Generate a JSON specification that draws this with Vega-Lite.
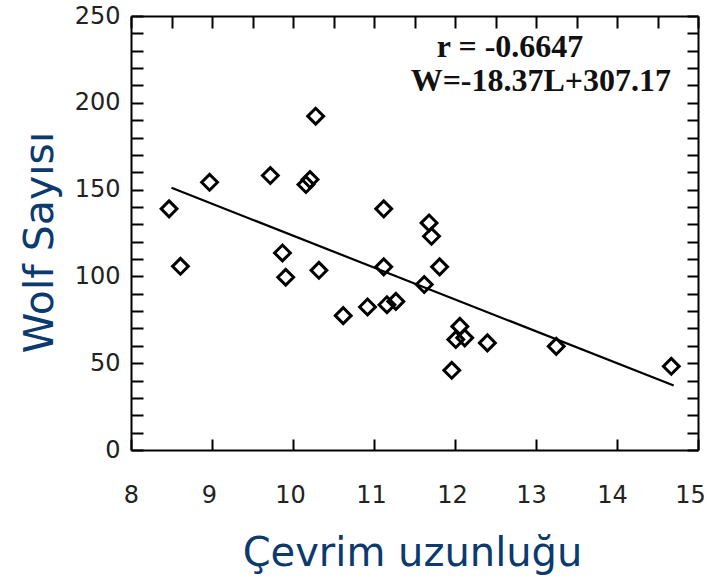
{
  "$schema": "https://vega.github.io/schema/vega-lite/v6.json",
  "width": 567,
  "height": 434,
  "autosize": "none",
  "padding": {"left": 131, "top": 16, "right": 14, "bottom": 131},
  "background": "white",
  "config": {"view": {"stroke": null}},
  "resolve": {"axis": {"x": "independent", "y": "independent"}},
  "layer": [
    {
      "data": {"values": [
        {"L": 8.47, "W": 138.9},
        {"L": 8.61, "W": 105.8},
        {"L": 8.97, "W": 154.2},
        {"L": 9.72, "W": 158.1},
        {"L": 9.87, "W": 113.5},
        {"L": 9.91, "W": 99.5},
        {"L": 10.16, "W": 152.9},
        {"L": 10.21, "W": 155.8},
        {"L": 10.28, "W": 192.3},
        {"L": 10.32, "W": 103.5},
        {"L": 10.62, "W": 77.4},
        {"L": 10.92, "W": 82.4},
        {"L": 11.12, "W": 138.9},
        {"L": 11.12, "W": 105.5},
        {"L": 11.16, "W": 83.7},
        {"L": 11.27, "W": 85.6},
        {"L": 11.62, "W": 95.3},
        {"L": 11.68, "W": 130.8},
        {"L": 11.71, "W": 123.1},
        {"L": 11.81, "W": 105.5},
        {"L": 11.96, "W": 45.9},
        {"L": 12.01, "W": 63.6},
        {"L": 12.06, "W": 71.2},
        {"L": 12.12, "W": 64.6},
        {"L": 12.40, "W": 61.7},
        {"L": 13.25, "W": 59.7},
        {"L": 14.67, "W": 48.2}
      ]},
      "mark": {"type": "point", "shape": "diamond", "filled": false, "stroke": "black", "strokeWidth": 3, "size": 250, "opacity": 1},
      "encoding": {
        "x": {
          "field": "L", "type": "quantitative",
          "scale": {"domain": [8, 15], "nice": false, "zero": false},
          "axis": {
            "orient": "bottom", "title": "Çevrim uzunluğu",
            "values": [8, 8.5, 9, 9.5, 10, 10.5, 11, 11.5, 12, 12.5, 13, 13.5, 14, 14.5, 15],
            "format": "d",
            "labelExpr": "datum.value % 1 === 0 ? datum.label : ''",
            "labelOffset": {"condition": [{"test": "datum.value >= 14.5", "value": -8}, {"test": "datum.value >= 12.5", "value": -5}, {"test": "datum.value >= 8.5", "value": -3}], "value": 0},
            "tickSize": -11,
            "tickColor": "black", "tickWidth": 2,
            "domainColor": "black", "domainWidth": 2,
            "grid": false,
            "labelFont": "DejaVu Sans", "labelFontSize": 24, "labelColor": "#222222",
            "labelPadding": 44, "labelFlush": false, "labelOverlap": false,
            "titleFont": "DejaVu Sans", "titleFontSize": 40, "titleFontWeight": "normal", "titleColor": "#0b3a6e",
            "titleBaseline": "alphabetic", "titleX": 281, "titleY": 115
          }
        },
        "y": {
          "field": "W", "type": "quantitative",
          "scale": {"domain": [0, 250], "nice": false},
          "axis": {
            "orient": "left", "title": "Wolf Sayısı",
            "values": [0, 10, 20, 30, 40, 50, 60, 70, 80, 90, 100, 110, 120, 130, 140, 150, 160, 170, 180, 190, 200, 210, 220, 230, 240, 250],
            "format": "d",
            "labelExpr": "datum.value % 50 === 0 ? datum.label : ''",
            "tickSize": -12,
            "tickColor": "black", "tickWidth": 2,
            "domainColor": "black", "domainWidth": 2,
            "grid": false,
            "labelFont": "DejaVu Sans", "labelFontSize": 24, "labelColor": "#222222",
            "labelPadding": 23, "labelFlush": false, "labelOverlap": false,
            "titleFont": "DejaVu Sans", "titleFontSize": 41, "titleFontWeight": "normal", "titleColor": "#0b3a6e",
            "titleBaseline": "alphabetic", "titleAngle": -90, "titleX": -79, "titleY": 226
          }
        }
      }
    },
    {
      "data": {"values": [
        {"L": 8.5, "W": 151.03},
        {"L": 14.7, "W": 37.13}
      ]},
      "mark": {"type": "line", "color": "black", "strokeWidth": 2.2},
      "encoding": {
        "x": {
          "field": "L", "type": "quantitative",
          "scale": {"domain": [8, 15], "nice": false, "zero": false},
          "axis": {
            "orient": "top", "title": null, "labels": false,
            "values": [8, 8.5, 9, 9.5, 10, 10.5, 11, 11.5, 12, 12.5, 13, 13.5, 14, 14.5, 15],
            "tickSize": -12,
            "tickColor": "black", "tickWidth": 2,
            "domainColor": "black", "domainWidth": 2, "grid": false
          }
        },
        "y": {
          "field": "W", "type": "quantitative",
          "scale": {"domain": [0, 250], "nice": false},
          "axis": {
            "orient": "right", "title": null, "labels": false,
            "values": [0, 10, 20, 30, 40, 50, 60, 70, 80, 90, 100, 110, 120, 130, 140, 150, 160, 170, 180, 190, 200, 210, 220, 230, 240, 250],
            "tickSize": -11,
            "tickColor": "black", "tickWidth": 2,
            "domainColor": "black", "domainWidth": 2, "grid": false
          }
        }
      }
    },
    {
      "data": {"values": [
        {"L": 12.68, "W": 232.4, "t": "r = -0.6647"},
        {"L": 13.06, "W": 212.3, "t": "W=-18.37L+307.17"}
      ]},
      "mark": {"type": "text", "font": "Liberation Serif", "fontSize": 32, "fontWeight": "bold", "color": "#111111", "align": "center", "baseline": "middle"},
      "encoding": {
        "x": {"field": "L", "type": "quantitative", "scale": {"domain": [8, 15], "nice": false, "zero": false}, "axis": null},
        "y": {"field": "W", "type": "quantitative", "scale": {"domain": [0, 250], "nice": false}, "axis": null},
        "text": {"field": "t"}
      }
    }
  ]
}
